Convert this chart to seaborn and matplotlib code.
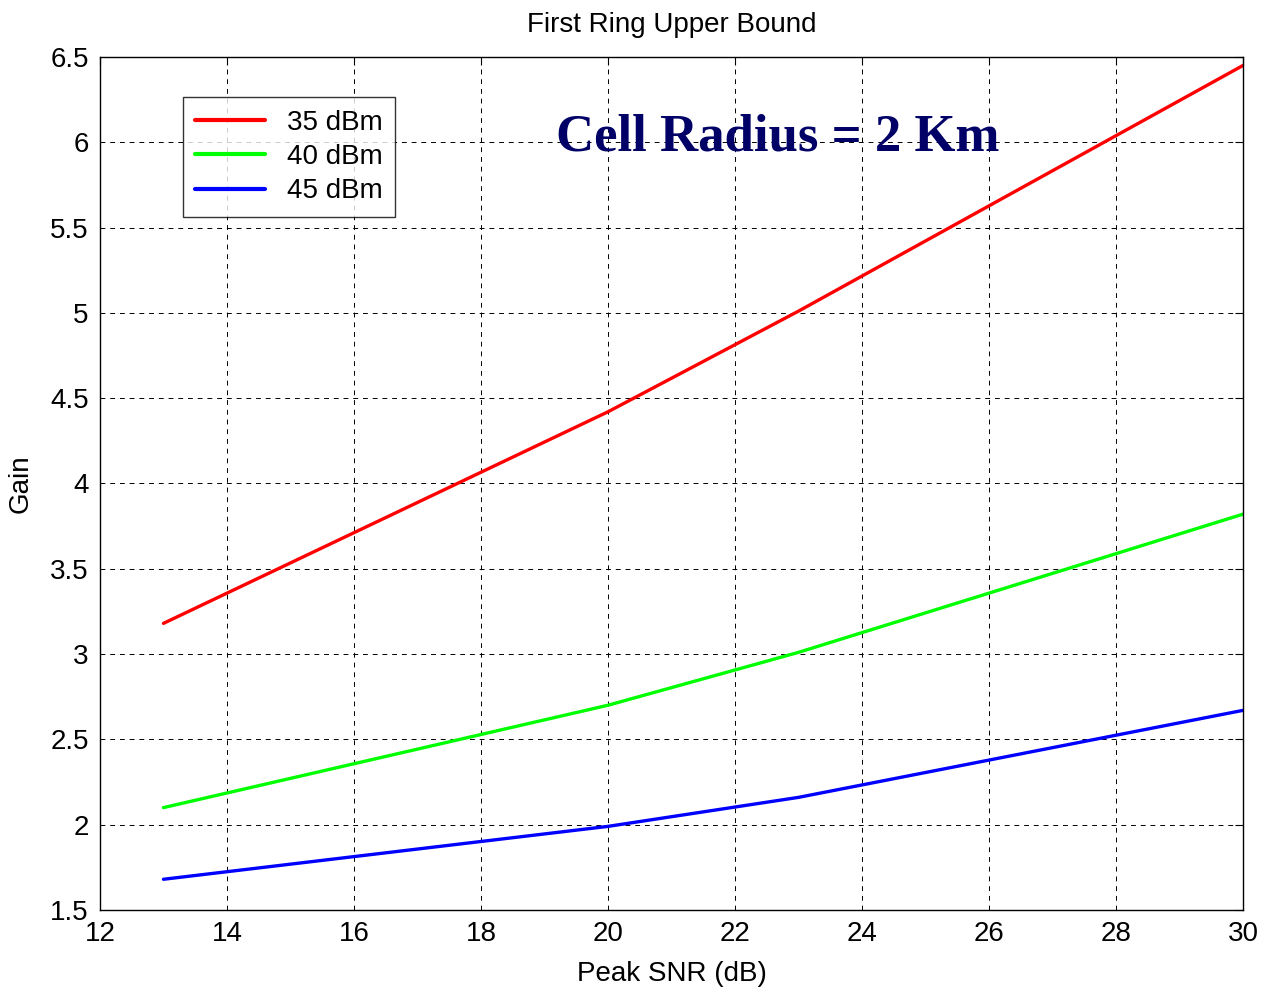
import matplotlib
matplotlib.use("Agg")
import matplotlib.pyplot as plt
import seaborn as sns
import pandas as pd

snr = [13, 20, 23, 30]
gain_35 = [3.18, 4.42, 5.01, 6.45]
gain_40 = [2.10, 2.70, 3.01, 3.82]
gain_45 = [1.68, 1.99, 2.16, 2.67]
series_names = ["35 dBm", "40 dBm", "45 dBm"]
colors = ["#ff0000", "#00ff00", "#0000ff"]
x_ticks = [12, 14, 16, 18, 20, 22, 24, 26, 28, 30]
y_ticks = [1.5, 2, 2.5, 3, 3.5, 4, 4.5, 5, 5.5, 6, 6.5]

rows = []
for name, vals in zip(series_names, [gain_35, gain_40, gain_45]):
    for x, y in zip(snr, vals):
        rows.append({"Peak SNR (dB)": x, "Gain": y, "Power": name})
df = pd.DataFrame(rows)

sns.set_style("white")
plt.rcParams["font.family"] = ["Liberation Sans", "DejaVu Sans"]
plt.rcParams["text.color"] = "black"
plt.rcParams["axes.labelcolor"] = "black"
plt.rcParams["xtick.color"] = "black"
plt.rcParams["ytick.color"] = "black"

fig = plt.figure(figsize=(12.62, 9.89), dpi=100)
ax = fig.add_axes([0.0792, 0.0799, 0.9057, 0.8625])

sns.lineplot(data=df, x="Peak SNR (dB)", y="Gain", hue="Power",
             palette=colors, linewidth=2.4, ax=ax, legend=True)

ax.set_xlim(12, 30)
ax.set_ylim(1.5, 6.5)
ax.set_xticks(x_ticks)
ax.set_yticks(y_ticks)
ax.set_xticklabels([str(t) for t in x_ticks])
ax.set_yticklabels([("%g" % t) for t in y_ticks])
ax.tick_params(axis="both", which="both", direction="in", length=6,
               top=True, right=True, labelsize=20, width=0.8, color="black",
               labelcolor="black", pad=8)
ax.grid(True, color="black", linestyle=(0, (5, 5)), linewidth=0.7)
for s in ax.spines.values():
    s.set_color("black")
    s.set_linewidth(1.0)

ax.set_title("First Ring Upper Bound", fontsize=20, pad=18, color="black")
ax.set_xlabel("Peak SNR (dB)", fontsize=20, labelpad=10, color="black")
ax.set_ylabel("Gain", fontsize=20, labelpad=12, color="black")

leg = ax.legend(loc="upper left", bbox_to_anchor=(0.0726, 0.953), borderaxespad=0,
                fontsize=20, frameon=True, fancybox=False, edgecolor="black",
                handlelength=2.5, handletextpad=0.8, borderpad=0.45, labelspacing=0.3)
leg.get_frame().set_linewidth(1.0)
for line in leg.get_lines():
    line.set_linewidth(3)
for t in leg.get_texts():
    t.set_color("black")

ax.text(22.68, 6.03, "Cell Radius = 2 Km", ha="center", va="center",
        fontsize=38, fontweight="bold", color="#000066",
        family=["Liberation Serif", "DejaVu Serif"])

fig.savefig("out.png", dpi=100)
